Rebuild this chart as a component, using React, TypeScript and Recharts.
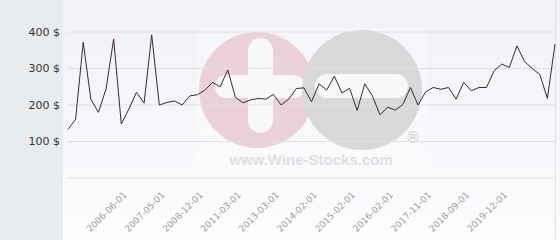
import { LineChart, Line, XAxis, YAxis, CartesianGrid } from "recharts";

const dates = [
  "2004-03-01", "2004-06-01", "2004-09-01", "2004-12-01", "2005-03-01", "2005-06-01", "2005-09-01", "2006-01-01",
  "2006-06-01", "2006-08-01", "2006-10-01", "2006-12-01", "2007-03-01", "2007-05-01", "2007-08-01", "2007-11-01",
  "2008-03-01", "2008-08-01", "2008-12-01", "2009-06-01", "2009-11-01", "2010-04-01", "2010-09-01", "2011-03-01",
  "2011-08-01", "2012-01-01", "2012-05-01", "2012-10-01", "2013-03-01", "2013-05-01", "2013-07-01", "2013-09-01",
  "2013-11-01", "2014-02-01", "2014-04-01", "2014-06-01", "2014-09-01", "2014-11-01", "2015-02-01", "2015-04-01",
  "2015-06-01", "2015-09-01", "2015-11-01", "2016-02-01", "2016-06-01", "2016-10-01", "2017-02-01", "2017-06-01",
  "2017-11-01", "2018-01-01", "2018-03-01", "2018-05-01", "2018-07-01", "2018-09-01", "2018-12-01", "2019-02-01",
  "2019-05-01", "2019-09-01", "2019-12-01", "2020-02-01", "2020-04-01", "2020-06-01", "2020-08-01", "2020-10-01",
  "2020-12-01",
];

const prices = [
  133, 161, 372, 216, 180, 244, 381, 148, 189, 235, 205, 392, 200, 207, 211, 200,
  225, 228, 241, 262, 250, 296, 221, 206, 214, 218, 216, 229, 200, 216, 245, 247,
  209, 258, 241, 279, 233, 246, 185, 258, 225, 173, 194, 186, 201, 248, 200, 236,
  248, 243, 248, 216, 262, 239, 248, 248, 294, 312, 303, 362, 319, 300, 284, 218,
  367,
];

const tickLabels = [
  "2006-06-01", "2007-05-01", "2008-12-01", "2011-03-01", "2013-03-01", "2014-02-01",
  "2015-02-01", "2016-02-01", "2017-11-01", "2018-09-01", "2019-12-01",
];

const priceTicks = [0, 100, 200, 300, 400];

const data = dates.map((date, i) => ({ date, price: prices[i] }));

const font = "'DejaVu Sans', Verdana, sans-serif";

// watermark drawn behind the chart
function Watermark() {
  return (
    <svg width={560} height={240} style={{ position: "absolute", left: 0, top: 0 }}>
      <rect x={197} y={28} width={230} height={148} fill="#ffffff" opacity={0.3} />
      <circle cx={257} cy={90} r={58} fill="#ebd2d8" />
      <rect x={248} y={38} width={25} height={95} rx={12.5} fill="#f8f8fb" />
      <rect x={215} y={75} width={90} height={23} rx={11.5} fill="#f8f8fb" />
      <circle cx={362} cy={90} r={60} fill="#d9d9db" />
      <rect x={315} y={74} width={93} height={24} rx={12} fill="#f8f8fb" />
      <text x={413} y={143} fontSize={15} fill="#d0d0d3" fontFamily={font} textAnchor="middle">
        ®
      </text>
      <text
        x={311}
        y={165}
        fontSize={15}
        fontWeight="bold"
        fill="#dfdfe3"
        fontFamily="'Liberation Sans', Arial, sans-serif"
        textAnchor="middle"
      >
        www.Wine-Stocks.com
      </text>
    </svg>
  );
}

export default function App() {
  return (
    <div
      style={{
        position: "absolute",
        left: 0,
        top: 0,
        width: 560,
        height: 240,
        background: "linear-gradient(to bottom, #f1f2f7 0%, #f7f8fb 60%, #fdfdfe 100%)",
        overflow: "hidden",
      }}
    >
      {/* left label panel */}
      <div style={{ position: "absolute", left: 0, top: 0, width: 63, height: 240, background: "#e8ecef" }} />
      <div style={{ position: "absolute", left: 555, top: 0, width: 1, height: 240, background: "#e2e3e7" }} />
      <Watermark />
      <div style={{ position: "absolute", left: 0, top: 0 }}>
        <LineChart width={560} height={240} data={data} margin={{ top: 32, right: 5, left: 0, bottom: 0 }}>
          <CartesianGrid vertical={false} stroke="#dfe0e4" />
          <XAxis
            dataKey="date"
            ticks={tickLabels}
            interval={0}
            axisLine={false}
            tickLine={false}
            height={62}
            tickMargin={7}
            angle={-45}
            textAnchor="end"
            tick={{ fill: "#9c9c9c", fontSize: 9, fontFamily: font, dx: -6 }}
          />
          <YAxis
            width={68}
            domain={[0, 400]}
            ticks={priceTicks}
            axisLine={false}
            tickLine={false}
            tickFormatter={(v: number) => (v === 0 ? "" : `${v} $`)}
            tick={{ fill: "#333333", fontSize: 11, fontFamily: font }}
          />
          <Line
            type="linear"
            dataKey="price"
            stroke="#3b2833"
            strokeWidth={1}
            dot={false}
            isAnimationActive={false}
          />
        </LineChart>
      </div>
    </div>
  );
}
